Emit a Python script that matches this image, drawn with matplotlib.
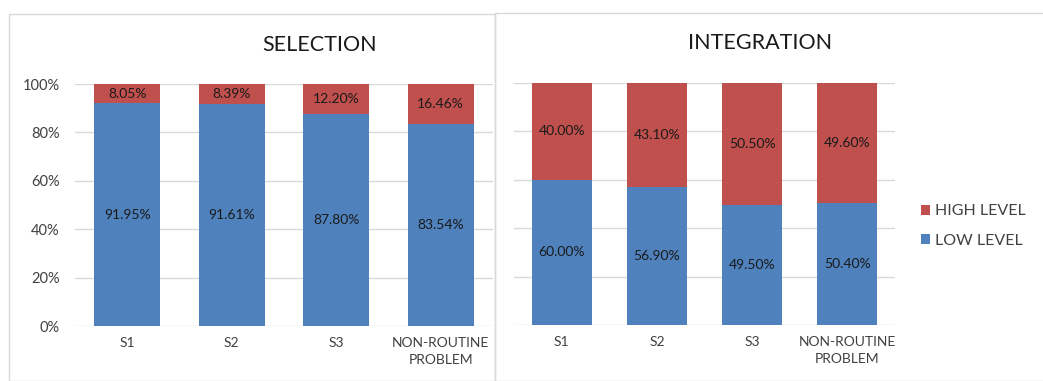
import matplotlib.pyplot as plt
from matplotlib.patches import Rectangle

plt.rcParams['font.family'] = ['Lato', 'DejaVu Sans']

categories = ["S1", "S2", "S3", "NON-ROUTINE\nPROBLEM"]
sel_low = [91.95, 91.61, 87.80, 83.54]
sel_high = [8.05, 8.39, 12.20, 16.46]
int_low = [60.00, 56.90, 49.50, 50.40]
int_high = [40.00, 43.10, 50.50, 49.60]

blue = "#4F81BD"
red = "#C0504D"
grid = "#D9D9D9"
txt = "#404040"

W, H = 1043, 381
fig = plt.figure(figsize=(W / 100, H / 100), dpi=100)

# panel borders
fig.patches.append(Rectangle((9 / W, 0), 486 / W, 1 - 14 / H, transform=fig.transFigure,
                             fill=False, edgecolor=grid, lw=1))
fig.patches.append(Rectangle((495 / W, 0), 560 / W, 1 - 13 / H, transform=fig.transFigure,
                             fill=False, edgecolor=grid, lw=1))


def make_ax(rect, low, high, show_y):
    ax = fig.add_axes(rect)
    x = range(len(categories))
    ax.bar(x, low, width=0.63, color=blue, label="LOW LEVEL", zorder=2)
    ax.bar(x, high, width=0.63, bottom=low, color=red, label="HIGH LEVEL", zorder=2)
    for i in x:
        ax.text(i, low[i] / 2, "%.2f%%" % low[i], ha="center", va="center",
                fontsize=10, color="#1a1a1a", zorder=3)
        ax.text(i, low[i] + high[i] / 2, "%.2f%%" % high[i], ha="center", va="center",
                fontsize=10, color="#1a1a1a", zorder=3)
    ax.set_xlim(-0.5, 3.5)
    ax.set_ylim(0, 100)
    ax.set_yticks([0, 20, 40, 60, 80, 100])
    ax.grid(axis="y", color=grid, lw=1, zorder=0)
    for s in ax.spines.values():
        s.set_visible(False)
    ax.set_xticks(list(x))
    ax.set_xticklabels(categories, fontsize=10, color=txt, linespacing=1.45)
    ax.tick_params(length=0, pad=8)
    if show_y:
        ax.set_yticklabels(["%d%%" % v for v in [0, 20, 40, 60, 80, 100]], fontsize=10.5, color=txt)
        ax.tick_params(axis="y", pad=11)
    else:
        ax.set_yticklabels([])
    return ax


ax1 = make_ax([75 / W, 1 - 326 / H, 418 / W, 242 / H], sel_low, sel_high, True)
ax2 = make_ax([514 / W, 1 - 325 / H, 381 / W, 242 / H], int_low, int_high, False)

fig.text(320 / W, 1 - 45 / H, "SELECTION", ha="center", va="center", fontsize=15.5, color="#1a1a1a")
fig.text(760 / W, 1 - 43 / H, "INTEGRATION", ha="center", va="center", fontsize=15.5, color="#1a1a1a")

h, l = ax2.get_legend_handles_labels()
fig.legend(h[::-1], l[::-1], loc="center left", bbox_to_anchor=(907 / W, 1 - 226 / H),
           frameon=False, fontsize=11.5, handlelength=0.55, handleheight=0.55,
           handletextpad=0.3, labelspacing=0.95, labelcolor=txt)

fig.savefig("out.png", dpi=100)
